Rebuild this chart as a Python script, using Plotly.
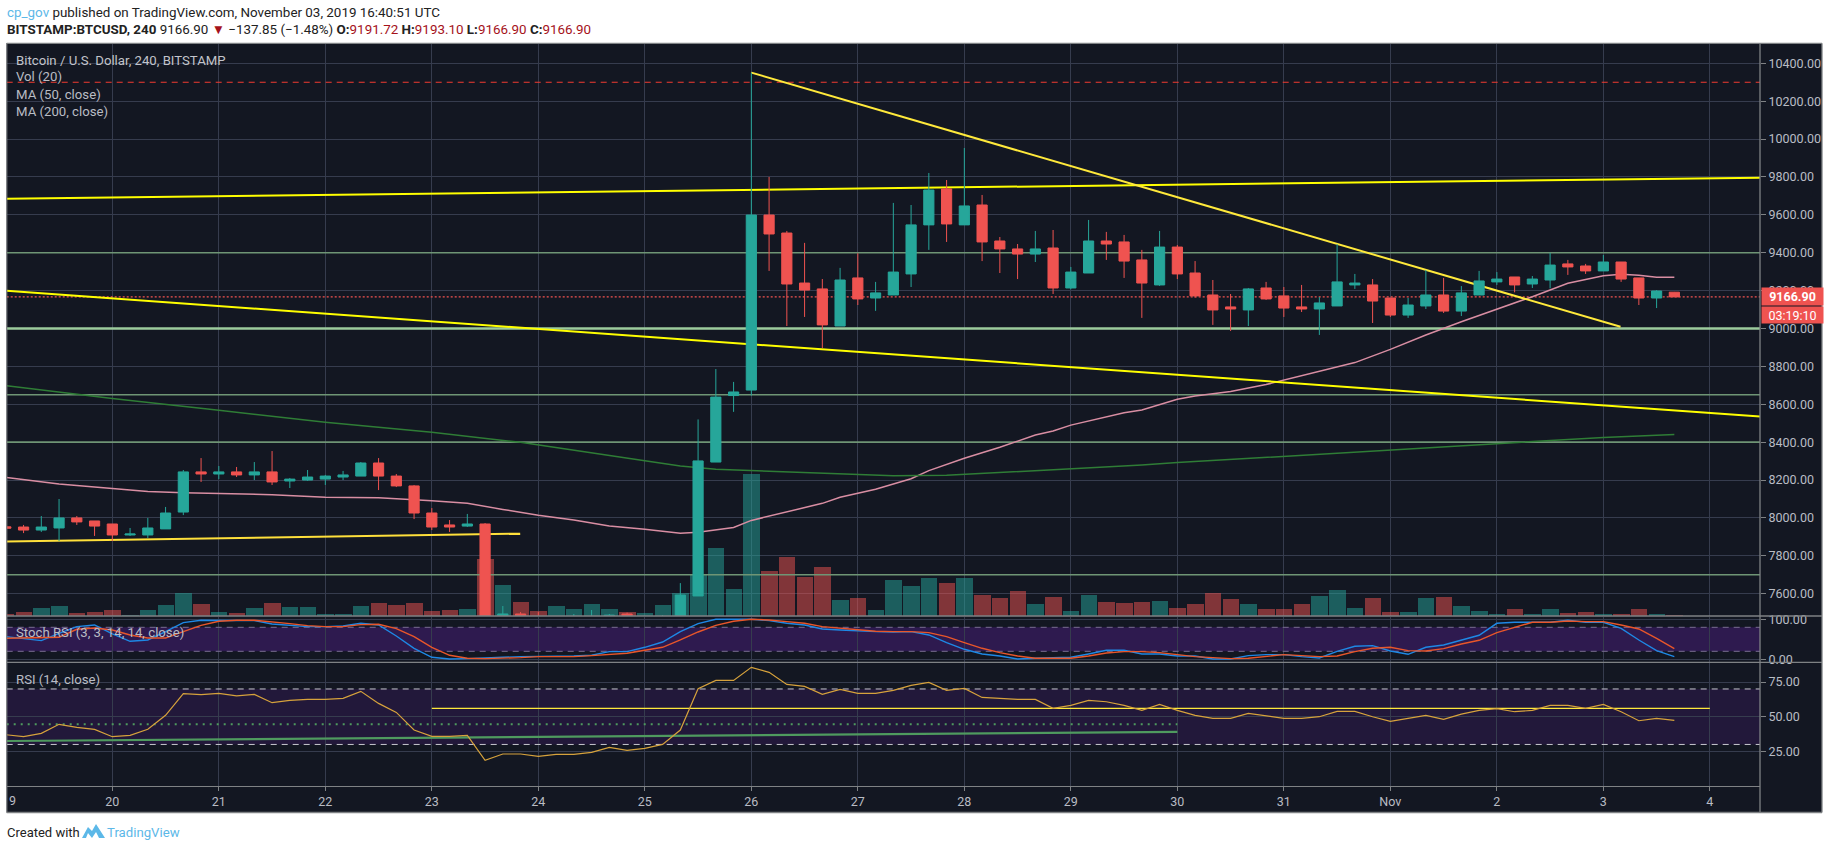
import pandas as pd
import plotly.graph_objects as go

W, H = 1828, 849

# 4-hour BTCUSD bars, one row per day
bar_times = pd.date_range("2019-10-19 00:00", periods=95, freq="4h")

opens = [
    7953, 7952, 7936, 7947, 8000, 7984,
    7968, 7910, 7910, 7942, 8031, 8243,
    8232, 8243, 8227, 8243, 8195, 8200,
    8205, 8216, 8221, 8290, 8221, 8169,
    8026, 7963, 7957, 7968, 7440, 7493,
    7470, 7440, 7430, 7455, 7460, 7493,
    7440, 7440, 7470, 7588, 8295, 8646,
    8675, 9599, 9504, 9240, 9209, 9013,
    9267, 9161, 9177, 9288, 9547, 9737,
    9547, 9652, 9462, 9420, 9393, 9425,
    9214, 9293, 9462, 9457, 9362, 9230,
    9430, 9293, 9177, 9114, 9098, 9214,
    9172, 9114, 9103, 9119, 9230, 9230,
    9161, 9071, 9119, 9177, 9092, 9177,
    9246, 9272, 9235, 9256, 9341, 9330,
    9304, 9351, 9267, 9161, 9191.72,
]
highs = [
    7958, 7963, 8010, 8100, 8010, 7984,
    7968, 7947, 8000, 8058, 8253, 8316,
    8274, 8269, 8295, 8353, 8211, 8253,
    8227, 8248, 8295, 8316, 8232, 8174,
    8052, 7989, 8021, 7973, 7535, 7503,
    7503, 7475, 7493, 7514, 7493, 7500,
    7478, 7487, 7656, 8520, 8786, 8718,
    10350, 9800, 9515, 9452, 9261, 9320,
    9397, 9246, 9663, 9652, 9821, 9784,
    9953, 9705, 9483, 9446, 9515, 9520,
    9325, 9573, 9510, 9494, 9415, 9515,
    9441, 9356, 9256, 9182, 9214, 9246,
    9219, 9230, 9166, 9446, 9288, 9261,
    9161, 9161, 9309, 9267, 9224, 9304,
    9298, 9272, 9277, 9399, 9362, 9341,
    9388, 9351, 9267, 9203, 9193.10,
]
lows = [
    7940, 7920, 7926, 7878, 7963, 7905,
    7878, 7905, 7894, 7942, 8015, 8190,
    8205, 8216, 8200, 8174, 8158, 8195,
    8174, 8200, 8221, 8147, 8163, 7994,
    7936, 7926, 7952, 7360, 7400, 7400,
    7420, 7420, 7410, 7430, 7440, 7430,
    7420, 7430, 7460, 7588, 8295, 8560,
    8646, 9304, 9013, 9061, 8897, 9013,
    9124, 9093, 9177, 9219, 9415, 9457,
    9547, 9356, 9293, 9261, 9351, 9182,
    9207, 9293, 9362, 9267, 9056, 9225,
    9261, 9163, 9019, 8987, 9013, 9151,
    9061, 9087, 8966, 9119, 9209, 9029,
    9061, 9056, 9103, 9082, 9066, 9177,
    9230, 9191, 9214, 9212, 9283, 9288,
    9304, 9246, 9124, 9108, 9166.90,
]
closes = [
    7946, 7936, 7952, 8000, 7979, 7957,
    7910, 7915, 7947, 8026, 8243, 8232,
    8243, 8227, 8243, 8190, 8205, 8216,
    8221, 8227, 8290, 8221, 8169, 8026,
    7952, 7952, 7968, 7450, 7493, 7450,
    7430, 7460, 7455, 7470, 7487, 7440,
    7465, 7470, 7593, 8301, 8638, 8665,
    9599, 9499, 9235, 9203, 9019, 9256,
    9156, 9188, 9298, 9547, 9731, 9552,
    9647, 9457, 9420, 9393, 9420, 9214,
    9298, 9462, 9446, 9356, 9240, 9430,
    9288, 9172, 9098, 9103, 9209, 9156,
    9108, 9103, 9135, 9246, 9240, 9145,
    9071, 9124, 9177, 9092, 9188, 9251,
    9261, 9230, 9261, 9335, 9325, 9304,
    9351, 9261, 9161, 9198, 9166.90,
]

# volume on its own scale, hidden axis
volumes = [
    6, 12, 24, 30, 9, 12,
    18, 3, 18, 33, 67, 36,
    12, 9, 24, 39, 27, 27,
    6, 6, 30, 39, 33, 39,
    15, 18, 21, 171, 93, 42,
    15, 30, 21, 36, 21, 12,
    9, 33, 68, 123, 204, 81,
    426, 135, 177, 117, 147, 48,
    54, 18, 108, 90, 114, 99,
    114, 63, 54, 75, 36, 57,
    15, 63, 42, 39, 42, 45,
    24, 36, 69, 51, 36, 21,
    21, 36, 60, 78, 24, 54,
    12, 12, 54, 57, 30, 15,
    6, 21, 6, 21, 9, 12,
    6, 6, 21, 6, 1,
]

# moving averages, read at the bars listed beside them
ma50_times = [
    "2019-10-19 00:12", "2019-10-19 12:00", "2019-10-20 00:00", "2019-10-20 08:00", "2019-10-20 16:00",
    "2019-10-21 00:00", "2019-10-21 12:00", "2019-10-22 00:00", "2019-10-22 12:00", "2019-10-23 00:00",
    "2019-10-23 08:00", "2019-10-23 16:00", "2019-10-24 00:00", "2019-10-24 08:00", "2019-10-24 16:00",
    "2019-10-25 00:00", "2019-10-25 08:00", "2019-10-25 12:00", "2019-10-25 20:00", "2019-10-26 00:00",
    "2019-10-26 08:00", "2019-10-26 16:00", "2019-10-26 20:00", "2019-10-27 04:00", "2019-10-27 12:00",
    "2019-10-27 16:00", "2019-10-28 00:00", "2019-10-28 08:00", "2019-10-28 16:00", "2019-10-28 20:00",
    "2019-10-29 00:00", "2019-10-29 12:00", "2019-10-29 16:00", "2019-10-30 00:00", "2019-10-30 04:00",
    "2019-10-30 12:00", "2019-10-30 20:00", "2019-10-31 04:00", "2019-10-31 08:00", "2019-10-31 16:00",
    "2019-11-01 00:00", "2019-11-01 08:00", "2019-11-01 16:00", "2019-11-02 00:00", "2019-11-02 08:00",
    "2019-11-02 16:00", "2019-11-03 00:00", "2019-11-03 04:00", "2019-11-03 08:00", "2019-11-03 12:00",
    "2019-11-03 16:00",
]
ma50_values = [
    8213, 8179, 8155, 8139, 8133, 8128, 8123, 8109, 8107, 8091,
    8077, 8045, 8014, 7989, 7957, 7940, 7919, 7924, 7950, 7987,
    8031, 8077, 8109, 8151, 8207, 8250, 8315, 8373, 8438, 8459,
    8490, 8555, 8570, 8626, 8644, 8667, 8704, 8749, 8772, 8820,
    8890, 8966, 9036, 9101, 9168, 9239, 9279, 9286, 9281, 9270,
    9270,
]
ma200_times = [
    "2019-10-19 00:12", "2019-10-19 14:00", "2019-10-20 00:00", "2019-10-21 00:00", "2019-10-22 00:00",
    "2019-10-23 00:00", "2019-10-23 20:00", "2019-10-25 00:00", "2019-10-25 08:00", "2019-10-25 16:00",
    "2019-10-26 00:00", "2019-10-26 08:00", "2019-10-26 20:00", "2019-10-27 08:00", "2019-10-27 20:00",
    "2019-10-28 08:00", "2019-10-29 00:00", "2019-10-29 16:00", "2019-10-30 00:00", "2019-10-31 00:00",
    "2019-11-01 00:00", "2019-11-02 00:00", "2019-11-03 00:00", "2019-11-03 16:00",
]
ma200_values = [
    8698, 8658, 8630, 8568, 8505, 8452, 8399, 8302, 8274, 8257,
    8250, 8241, 8230, 8223, 8225, 8239, 8257, 8279, 8292, 8325,
    8357, 8390, 8425, 8441,
]

# oscillators, one value per bar
stoch_k = [
    56.7, 52.5, 46.7, 65, 81.7, 85.8,
    63.3, 45, 48.3, 69.2, 91.7, 97.5,
    97.5, 97.5, 96.7, 88.3, 85, 81.7,
    81.7, 83.3, 90, 85.8, 58.3, 27.5,
    5, 0.8, 1.7, 2.5, 5, 6.7,
    6.7, 6.7, 8.3, 10, 19.2, 19.2,
    30, 43.3, 69.2, 89.2, 100, 100,
    100, 96.7, 90, 85.8, 75.8, 73.3,
    70.8, 69.2, 68.3, 69.2, 60.8, 41.7,
    25, 13.3, 8.3, 0.8, 2.5, 3.3,
    5, 13.3, 22.5, 22.5, 13.3, 13.3,
    8.3, 8.3, 0.8, 0.8, 9.2, 11.7,
    11.7, 6.7, 3.3, 20, 32.5, 34.2,
    20.8, 12.5, 30, 35.8, 48.3, 60,
    90, 92.5, 92.5, 92.5, 97.5, 92.5,
    92.5, 77.5, 48.3, 21.7, 6.7,
]
stoch_d = [
    52.5, 53.3, 55, 55, 75, 78.3,
    73.3, 60.8, 53.3, 53.3, 69.2, 85,
    95, 97.5, 97.5, 94.2, 89.2, 84.2,
    81.7, 81.7, 86.7, 87.5, 76.7, 56.7,
    30, 10, 2.5, 1.7, 2.5, 4.2,
    6.7, 6.7, 6.7, 9.2, 12.5, 15,
    22.5, 30, 48.3, 68.3, 85, 95,
    100, 98.3, 94.2, 90, 81.7, 77.5,
    73.3, 70, 69.2, 69.2, 66.7, 56.7,
    41.7, 27.5, 16.7, 8.3, 2.5, 1.7,
    2.5, 8.3, 15.8, 19.2, 19.2, 16.7,
    10.8, 6.7, 4.2, 1.7, 2.5, 6.7,
    11.7, 9.2, 6.7, 8.3, 19.2, 27.5,
    30, 21.7, 20.8, 26.7, 38.3, 47.5,
    66.7, 80, 92.5, 92.5, 95.8, 94.2,
    94.2, 85.8, 75.8, 52.5, 26.7,
]
rsi_values = [
    37.0, 35.6, 38.0, 44.5, 42.3, 40.9,
    35.6, 36.5, 40.9, 51.0, 66.6, 65.9,
    66.8, 65.1, 66.1, 60.1, 61.8, 62.5,
    62.5, 63.2, 68.3, 59.6, 53.1, 40.4,
    35.8, 35.8, 36.5, 18.5, 23.1, 23.1,
    21.4, 22.8, 22.8, 24.3, 27.9, 25.7,
    27.2, 30.0, 40.4, 70.2, 76.2, 76.2,
    85.6, 82.0, 73.3, 71.9, 66.1, 69.7,
    66.8, 66.8, 69.0, 72.6, 74.8, 69.0,
    70.4, 63.9, 63.2, 62.5, 62.5, 56.0,
    58.2, 61.8, 60.8, 58.2, 54.6, 58.9,
    54.6, 51.0, 48.8, 48.8, 52.4, 50.5,
    48.8, 48.8, 50.0, 53.8, 53.8, 50.0,
    46.6, 48.8, 51.0, 48.1, 51.9, 54.6,
    55.8, 53.6, 54.6, 58.2, 58.2, 56.0,
    58.9, 53.6, 47.1, 48.8, 47.4,
]

# drawn levels and trend lines: (start time, start price, end time, end price)
x_start, x_end = "2019-10-19 00:12", "2019-11-04 11:18"
green_levels = [9400, 8650, 8400, 7700]
support_level = 9000
resistance_level = 10300
last_price = 9166.90
trend_lines = [
    (x_start, 9685, x_end, 9796, "#ffff00"),
    (x_start, 9199, x_end, 8535, "#ffff00"),
    ("2019-10-26 00:00", 10351, "2019-11-03 03:52", 9009, "#ffe93b"),
    (x_start, 7875, "2019-10-23 19:55", 7917, "#ffe03b"),
]

day_ticks = pd.date_range("2019-10-20", "2019-11-04", freq="D")
day_labels = ["20", "21", "22", "23", "24", "25", "26", "27", "28", "29", "30", "31", "Nov", "2", "3", "4"]
price_ticks = list(range(7600, 10401, 200))

BG = "#131722"
GRID = "#363c4e"
FRAME = "#7f8285"
UP = "#26a69a"
DOWN = "#ef5350"
TEXT = "#b9bcc4"
FONT = "Liberation Sans Narrow, Roboto, sans-serif"


def px(x):
    return x / W


def py(y):
    return 1 - y / H


colors_up = [c >= o for o, c in zip(opens, closes)]
fig = go.Figure()

fig.add_trace(go.Bar(
    x=bar_times, y=volumes, yaxis="y", xaxis="x", width=4 * 3600 * 1000 * 0.93,
    marker=dict(color=["rgba(38,166,154,0.5)" if u else "rgba(239,83,80,0.5)" for u in colors_up], line_width=0),
))

# lines sit between the volume and the candles
for level in green_levels:
    fig.add_trace(go.Scatter(x=[x_start, x_end], y=[level, level], yaxis="y2", mode="lines",
                             line=dict(color="#6f9575", width=1.6)))
fig.add_trace(go.Scatter(x=[x_start, x_end], y=[support_level, support_level], yaxis="y2", mode="lines",
                         line=dict(color="#9ccb9c", width=2.4)))
fig.add_trace(go.Scatter(x=[x_start, x_end], y=[resistance_level, resistance_level], yaxis="y2", mode="lines",
                         line=dict(color="#f23b30", width=1.2, dash="6px,5px")))
fig.add_trace(go.Scatter(x=[x_start, x_end], y=[last_price, last_price], yaxis="y2", mode="lines",
                         line=dict(color="#ef5350", width=1.2, dash="2px,2px")))
fig.add_trace(go.Scatter(x=ma50_times, y=ma50_values, yaxis="y2", mode="lines",
                         line=dict(color="#d98ea3", width=1.5)))
fig.add_trace(go.Scatter(x=ma200_times, y=ma200_values, yaxis="y2", mode="lines",
                         line=dict(color="#2f7d36", width=1.5)))
for t0, p0, t1, p1, col in trend_lines:
    fig.add_trace(go.Scatter(x=[t0, t1], y=[p0, p1], yaxis="y2", mode="lines", line=dict(color=col, width=2)))

fig.add_trace(go.Candlestick(
    x=bar_times, open=opens, high=highs, low=lows, close=closes, yaxis="y3",
    increasing=dict(line=dict(color=UP, width=1), fillcolor=UP),
    decreasing=dict(line=dict(color=DOWN, width=1), fillcolor=DOWN),
))

# Stochastic RSI pane
for level in (80, 20):
    fig.add_trace(go.Scatter(x=[x_start, x_end], y=[level, level], yaxis="y4", mode="lines",
                             line=dict(color="#7a6e92", width=1, dash="6px,5px")))
fig.add_trace(go.Scatter(x=bar_times, y=stoch_k, yaxis="y4", mode="lines", line=dict(color="#1e88e5", width=1.4)))
fig.add_trace(go.Scatter(x=bar_times, y=stoch_d, yaxis="y4", mode="lines", line=dict(color="#e8562a", width=1.4)))

# RSI pane
for level in (70, 30):
    fig.add_trace(go.Scatter(x=[x_start, x_end], y=[level, level], yaxis="y5", mode="lines",
                             line=dict(color="#c9c9d1", width=1, dash="6px,5px")))
fig.add_trace(go.Scatter(x=[x_start, "2019-10-30 00:00"], y=[44.5, 44.5], yaxis="y5", mode="lines",
                         line=dict(color="#4f9a5f", width=2, dash="2px,5px")))
fig.add_trace(go.Scatter(x=[x_start, "2019-10-30 00:00"], y=[32.5, 39], yaxis="y5", mode="lines",
                         line=dict(color="#4f9a5f", width=2.2)))
fig.add_trace(go.Scatter(x=["2019-10-23 00:00", "2019-11-04 00:00"], y=[56, 56], yaxis="y5", mode="lines",
                         line=dict(color="#ffe93b", width=1.4)))
fig.add_trace(go.Scatter(x=bar_times, y=rsi_values, yaxis="y5", mode="lines", line=dict(color="#d6a23c", width=1.2)))

common_y = dict(showline=False, zeroline=False, fixedrange=True)
right_ticks = dict(side="right", anchor="x", ticks="outside", ticklen=5, tickcolor=FRAME,
                   tickfont=dict(family=FONT, size=12.5, color=TEXT), tickformat=".2f",
                   gridcolor=GRID, gridwidth=1, showgrid=True)
main_domain = [py(616), py(43.3)]
main_range = [7482.3, 10505.6]

shapes = [
    dict(type="rect", xref="paper", yref="paper", x0=px(6.7), x1=px(1822), y0=py(812.5), y1=py(43.3),
         fillcolor=BG, line=dict(width=0), layer="below"),
    dict(type="rect", xref="x", yref="y4", x0=x_start, x1=x_end, y0=20, y1=80,
         fillcolor="#2e1a4f", line=dict(width=0), layer="below"),
    dict(type="rect", xref="x", yref="y5", x0=x_start, x1=x_end, y0=30, y1=70,
         fillcolor="#22183a", line=dict(width=0), layer="below"),
]
# chart frame, pane separators and the price-axis rule
for x0, y0, x1, y1 in [
    (6.7, 43.3, 1822, 43.3), (6.7, 812.5, 1822, 812.5), (6.7, 43.3, 6.7, 812.5), (1822, 43.3, 1822, 812.5),
    (6.7, 616, 1822, 616), (6.7, 662.3, 1822, 662.3), (1760, 43.3, 1760, 812.5),
]:
    shapes.append(dict(type="line", xref="paper", yref="paper", x0=px(x0), x1=px(x1), y0=py(y0), y1=py(y1),
                       line=dict(color=FRAME, width=1.3), layer="above"))
# TradingView mark beside the credit line
logo = [(82, 838), (88, 827), (92, 831), (96, 824), (105, 838), (99, 838), (96, 832), (92, 838), (88, 833), (86, 838)]
shapes.append(dict(type="path", xref="paper", yref="paper",
                   path="M " + " L ".join(f"{px(a):.5f},{py(b):.5f}" for a, b in logo) + " Z",
                   fillcolor="#5cb8e8", line=dict(width=0), layer="above"))


def note(x, y, text, size=13.2, color=TEXT, **extra):
    return dict(xref="paper", yref="paper", x=px(x), y=py(y), xanchor="left", yanchor="middle", text=text,
                showarrow=False, font=dict(family=FONT, size=size, color=color), borderpad=0, **extra)


DARKRED = "#a5121b"
annotations = [
    note(6, 12.5, '<span style="color:#5cb8e8">cp_gov</span> published on TradingView.com, November 03, 2019 16:40:51 UTC',
         size=13.4, color="#222222"),
    note(6, 29.5,
         f'<b>BITSTAMP:BTCUSD, 240</b> 9166.90 <span style="color:{DARKRED}">▼</span> −137.85 (−1.48%) '
         f'<b>O:</b><span style="color:{DARKRED}">9191.72</span> <b>H:</b><span style="color:{DARKRED}">9193.10</span> '
         f'<b>L:</b><span style="color:{DARKRED}">9166.90</span> <b>C:</b><span style="color:{DARKRED}">9166.90</span>',
         size=13.4, color="#222222"),
    note(15, 60, "Bitcoin / U.S. Dollar, 240, BITSTAMP", color="#c2c4cb"),
    note(15, 77, "Vol (20)"),
    note(15, 94.5, "MA (50, close)"),
    note(15, 111.5, "MA (200, close)"),
    note(15, 632.5, "Stoch RSI (3, 3, 14, 14, close)"),
    note(15, 679, "RSI (14, close)"),
    note(8, 800, "9", size=12.5),
    note(6, 832, "Created with", size=13, color="#222222"),
    note(106, 832, "TradingView", size=13.2, color="#5cb8e8"),
    note(1760.5, 296.5, "<b>9166.90</b>", size=12.5, color="#ffffff", width=61, height=17, bgcolor=DOWN, align="center"),
    note(1760.5, 314.5, "03:19:10", size=12.5, color="#ffffff", width=61, height=16, bgcolor=DOWN, align="center"),
]

fig.update_layout(
    width=W, height=H, autosize=False, margin=dict(l=0, r=0, t=0, b=0, pad=0, autoexpand=False),
    paper_bgcolor="#ffffff", plot_bgcolor=BG, showlegend=False, hovermode=False,
    bargap=0, boxgap=0.18,
    xaxis=dict(domain=[px(6.7), px(1760)], range=[x_start, x_end], type="date", anchor="y5",
               tickmode="array", tickvals=list(day_ticks), ticktext=day_labels,
               ticks="outside", ticklen=4, tickcolor=FRAME,
               tickfont=dict(family=FONT, size=12.5, color=TEXT),
               showgrid=True, gridcolor=GRID, gridwidth=1, showline=True, linecolor=FRAME, linewidth=1.3,
               zeroline=False, rangeslider=dict(visible=False), fixedrange=True),
    yaxis=dict(domain=main_domain, range=[0, 1719], visible=False, anchor="x", **common_y),
    yaxis2=dict(overlaying="y", range=main_range, tickvals=price_ticks, **right_ticks, **common_y),
    yaxis3=dict(overlaying="y", range=main_range, visible=False, anchor="x", **common_y),
    yaxis4=dict(domain=[py(662), py(616.5)], range=[-6.75, 107], tickvals=[0, 100], **right_ticks, **common_y),
    yaxis5=dict(domain=[py(785.7), py(662.5)], range=[0.25, 89.1], tickvals=[25, 50, 75], **right_ticks, **common_y),
    shapes=shapes, annotations=annotations,
)
fig.update_traces(hoverinfo="skip")

fig.write_html("out.html", config={"displayModeBar": False})
